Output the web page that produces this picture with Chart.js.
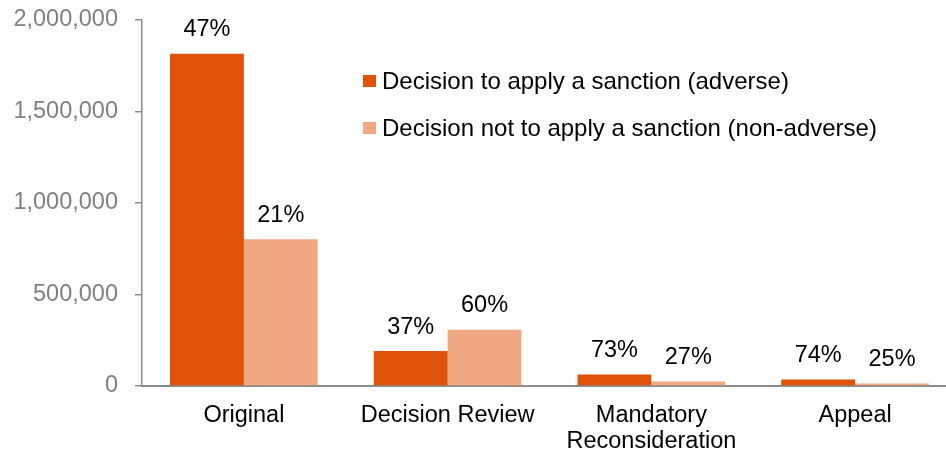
<!DOCTYPE html>
<html>
<head>
<meta charset="utf-8">
<script src="https://cdn.jsdelivr.net/npm/chart.js@4/dist/chart.umd.min.js"></script>
<style>
  html, body { margin: 0; padding: 0; background: #ffffff; overflow: hidden; width: 946px; height: 452px; }
  canvas { display: block; }
</style>
</head>
<body>
<canvas id="c" width="960" height="452"></canvas>
<script>
const categories = ['Original', 'Decision Review', ['Mandatory', 'Reconsideration'], 'Appeal'];
const seriesNames = ['Decision to apply a sanction (adverse)', 'Decision not to apply a sanction (non-adverse)'];
const adverseValues = [1815000, 191000, 63000, 36000];
const nonAdverseValues = [802000, 308000, 24000, 14000];
const adversePct = ['47%', '37%', '73%', '74%'];
const nonAdversePct = ['21%', '60%', '27%', '25%'];
const yTicks = [0, 500000, 1000000, 1500000, 2000000];

const colors = ['#E05206', '#F0A882'];
const FONT = '"Liberation Sans", Arial, sans-serif';

const dataLabels = {
  id: 'dataLabels',
  afterDatasetsDraw(chart) {
    const ctx = chart.ctx;
    const pcts = [adversePct, nonAdversePct];
    ctx.save();
    ctx.font = '23.5px ' + FONT;
    ctx.fillStyle = '#000000';
    ctx.textAlign = 'center';
    ctx.textBaseline = 'middle';
    chart.data.datasets.forEach((ds, i) => {
      chart.getDatasetMeta(i).data.forEach((el, j) => {
        ctx.fillText(pcts[i][j], el.x, el.y - 24);
      });
    });
    ctx.restore();
  }
};

const insideLegend = {
  id: 'insideLegend',
  afterDraw(chart, args, opts) {
    const ctx = chart.ctx;
    ctx.save();
    ctx.font = '24px ' + FONT;
    ctx.textBaseline = 'middle';
    ctx.textAlign = 'left';
    chart.data.datasets.forEach((ds, i) => {
      const y = opts.y + i * opts.gap;
      ctx.fillStyle = ds.backgroundColor;
      ctx.fillRect(opts.x, y - 6, 13, 12);
      ctx.fillStyle = '#000000';
      ctx.fillText(ds.label, opts.x + 19, y + 1);
    });
    ctx.restore();
  }
};

new Chart(document.getElementById('c'), {
  type: 'bar',
  data: {
    labels: categories,
    datasets: [
      { label: seriesNames[0], data: adverseValues, backgroundColor: colors[0] },
      { label: seriesNames[1], data: nonAdverseValues, backgroundColor: colors[1] }
    ]
  },
  options: {
    responsive: false,
    animation: false,
    devicePixelRatio: 1,
    layout: { padding: { top: 20, right: 3, left: 0, bottom: 0 } },
    datasets: { bar: { categoryPercentage: 0.725, barPercentage: 1.0 } },
    plugins: {
      legend: { display: false },
      tooltip: { enabled: false },
      insideLegend: { x: 363, y: 81, gap: 47 }
    },
    scales: {
      x: {
        grid: { display: true, drawOnChartArea: false, drawTicks: false },
        border: { display: true, color: '#8C8C8C', width: 2 },
        ticks: {
          color: '#000000',
          font: { family: FONT, size: 23.5, lineHeight: 1.12 },
          padding: 16,
          maxRotation: 0,
          autoSkip: false
        },
        afterFit(scale) { scale.height = 66; scale.paddingLeft = 0; scale.paddingRight = 0; }
      },
      y: {
        min: 0,
        max: 2000000,
        afterBuildTicks(scale) { scale.ticks = yTicks.map(v => ({ value: v })); },
        grid: { display: true, drawOnChartArea: false, drawTicks: true, tickLength: 7, color: '#8C8C8C', lineWidth: 1.5 },
        border: { display: true, color: '#8C8C8C', width: 1.5 },
        ticks: {
          color: '#808080',
          font: { family: FONT, size: 23.5 },
          padding: 17,
          callback: v => v.toLocaleString('en-US')
        },
        afterFit(scale) { scale.width = 142; scale.paddingTop = 0; scale.paddingBottom = 0; }
      }
    }
  },
  plugins: [dataLabels, insideLegend]
});
</script>
</body>
</html>
